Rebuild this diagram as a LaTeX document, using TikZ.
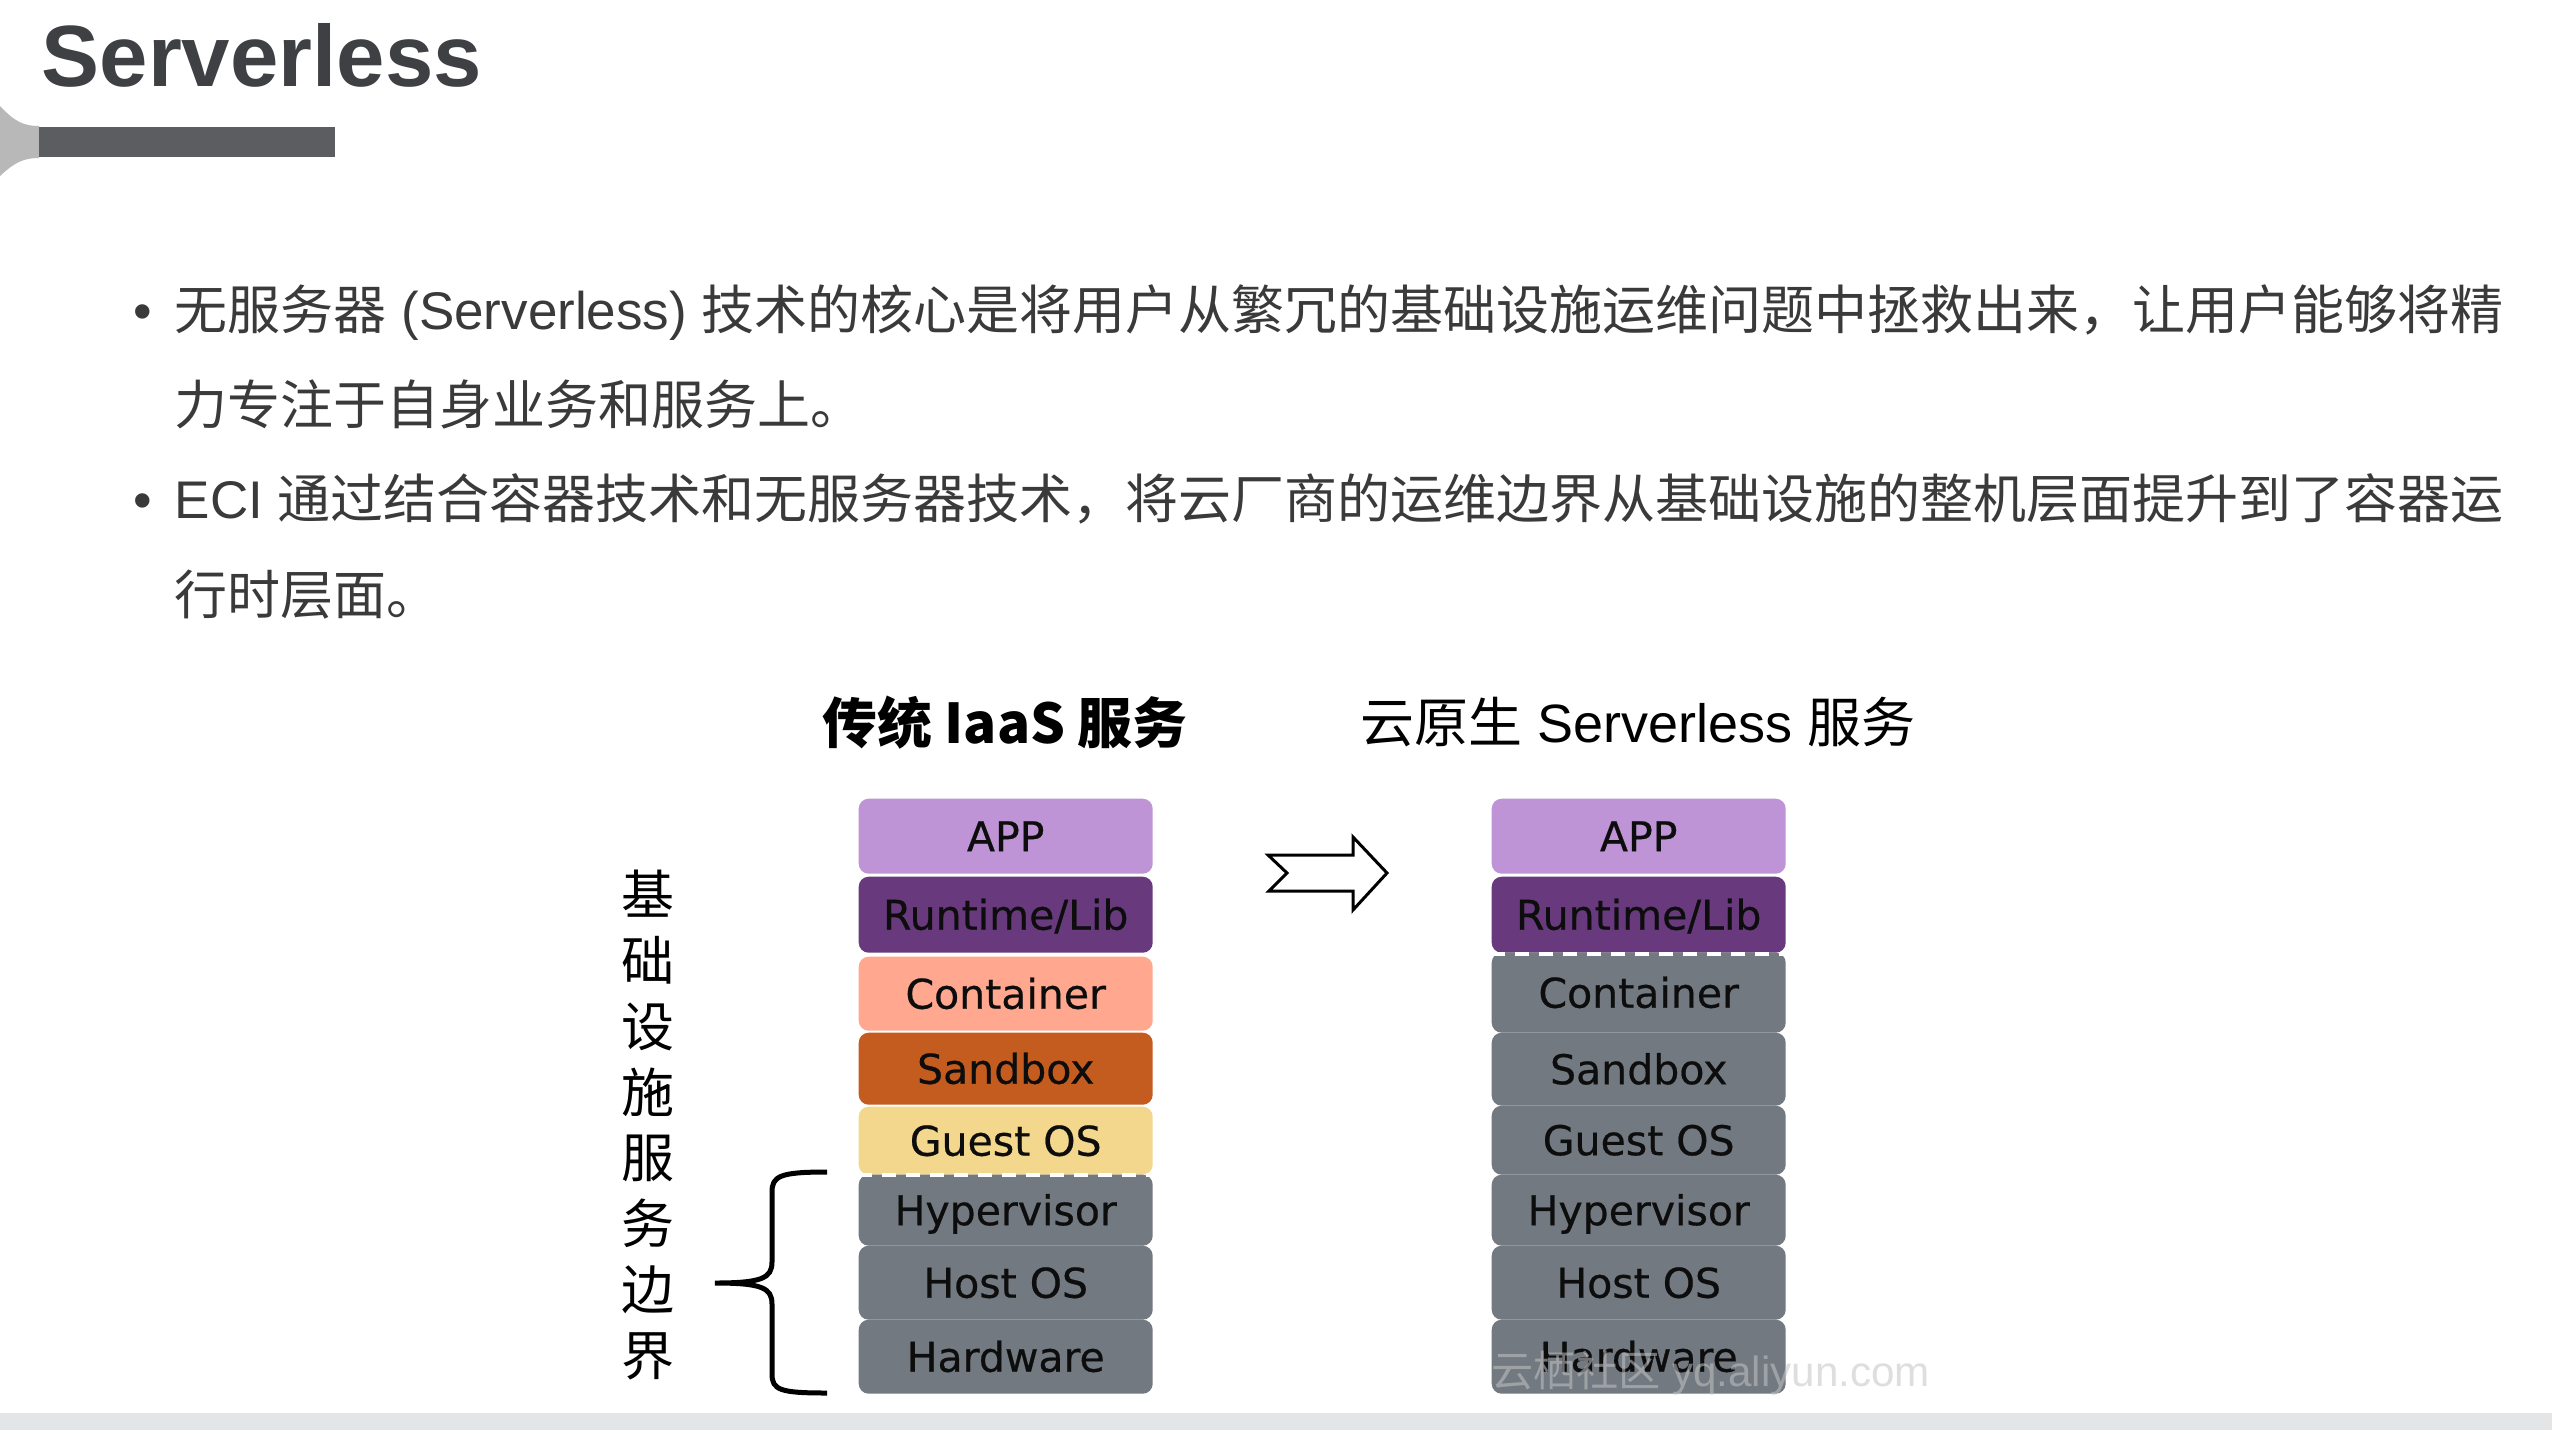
\documentclass[tikz,border=0pt]{standalone}
\usepackage{fontspec}
\setmainfont{Liberation Sans}
\newfontfamily\cjk{Noto Sans CJK SC}
\newfontfamily\layerfont{DejaVu Sans}[FakeBold=0.5]
\definecolor{titre}{RGB}{62,64,67}
\definecolor{barre}{RGB}{91,93,96}
\definecolor{evase}{RGB}{184,184,184}
\definecolor{texte}{RGB}{58,58,58}
\definecolor{bande}{RGB}{227,229,231}
\definecolor{appc}{RGB}{190,148,214}
\definecolor{runc}{RGB}{104,58,125}
\definecolor{ctrc}{RGB}{255,168,143}
\definecolor{sbxc}{RGB}{196,92,31}
\definecolor{gosc}{RGB}{243,215,140}
\definecolor{grisc}{RGB}{114,121,129}
\definecolor{filig}{RGB}{196,196,196}

\begin{document}
\begin{tikzpicture}[x=0.1mm, y=-0.1mm,
  layer/.style={rectangle, rounded corners=1mm, inner sep=0pt, minimum width=29.4mm,
    text height=3mm, text depth=0pt, text=black!95,
    font=\layerfont\fontsize{11.67}{14}\selectfont},
  puce/.style={anchor=base west, inner sep=0pt, text=texte, font=\fontsize{15.08}{18}\selectfont}]

		\newcommand{\mklayer}[6]{
			\node[layer, fill=#5, minimum height={(#4-#3)*0.1mm}, anchor=north west] (#1) at (#2,#3) {#6};
		}

		%fond et cadre
		\fill[white] (0,0) rectangle (2552,1430);
		\useasboundingbox (0,0) rectangle (2552,1430);
		\fill[bande] (0,1413) rectangle (2552,1430);

		%titre
		\fill[evase] (0,106) .. controls (15,122) and (24,126) .. (39,126) -- (39,158)
			.. controls (24,158) and (15,162) .. (0,176) -- cycle;
		\fill[barre] (39,127) rectangle (335,157);
		\node[anchor=base west, inner sep=0pt, text=titre, font=\bfseries\fontsize{24.75}{28}\selectfont]
			(titre) at (41,86) {Serverless};

		%texte
		\node[puce] (p1) at (133,329) {•};
		\node[puce] (l1) at (174,329) {{\cjk 无服务器} (Serverless) {\cjk 技术的核心是将用户从繁冗的基础设施运维问题中拯救出来，让用户能够将精}};
		\node[puce] (l2) at (174,424) {\cjk 力专注于自身业务和服务上。};
		\node[puce] (p2) at (133,518) {•};
		\node[puce] (l3) at (174,518) {ECI {\cjk 通过结合容器技术和无服务器技术，将云厂商的运维边界从基础设施的整机层面提升到了容器运}};
		\node[puce] (l4) at (174,614) {\cjk 行时层面。};

		%en-tetes
		\node[anchor=base, inner sep=0pt, font=\cjk\bfseries\fontsize{15.6}{19}\selectfont]
			(iaas) at (1005,743) {传统 IaaS 服务};
		\node[anchor=base, inner sep=0pt, font=\fontsize{15.36}{18}\selectfont]
			(sless) at (1638,742) {{\cjk 云原生} Serverless {\cjk 服务}};

		%pile de gauche
		\mklayer{app1}{858}{798}{873}{appc}{APP}
		\mklayer{run1}{858}{876}{952}{runc}{Runtime/Lib}
		\mklayer{ctr1}{858}{956}{1030}{ctrc}{Container}
		\mklayer{sbx1}{858}{1032}{1104}{sbxc}{Sandbox}
		\mklayer{gos1}{858}{1106}{1174}{gosc}{Guest OS}
		\mklayer{hyp1}{858}{1174}{1245}{grisc}{Hypervisor}
		\mklayer{hos1}{858}{1245}{1319}{grisc}{Host OS}
		\mklayer{hw1}{858}{1319}{1393}{grisc}{Hardware}
		\draw[white, line width=0.4mm, dash pattern=on 1.4mm off 1mm] (gos1.south west) -- (gos1.south east);

		%pile de droite
		\mklayer{app2}{1491}{798}{873}{appc}{APP}
		\mklayer{run2}{1491}{876}{952}{runc}{Runtime/Lib}
		\mklayer{ctr2}{1491}{952}{1032}{grisc}{Container}
		\mklayer{sbx2}{1491}{1032}{1105}{grisc}{Sandbox}
		\mklayer{gos2}{1491}{1105}{1174}{grisc}{Guest OS}
		\mklayer{hyp2}{1491}{1174}{1245}{grisc}{Hypervisor}
		\mklayer{hos2}{1491}{1245}{1319}{grisc}{Host OS}
		\mklayer{hw2}{1491}{1319}{1393}{grisc}{Hardware}
		\draw[white, line width=0.4mm, dash pattern=on 1.4mm off 1mm]
			([yshift=-0.2mm]ctr2.north west) -- ([yshift=-0.2mm]ctr2.north east);

		%fleche
		\draw[line width=0.3mm, line join=miter] (1268,855) -- (1353,855) -- (1353,837) -- (1387,873)
			-- (1353,910) -- (1353,891) -- (1269,891) -- (1287,873) -- cycle;

		%accolade
		\draw[line width=0.5mm] (827,1172) .. controls (780,1172) and (772,1176) .. (772,1192) -- (772,1262)
			.. controls (772,1278) and (762,1283) .. (715,1283)
			.. controls (762,1283) and (772,1288) .. (772,1304) -- (772,1374)
			.. controls (772,1390) and (780,1393) .. (827,1393);
		\node[align=center, inner sep=0pt, font=\cjk\fontsize{15.08}{18.75}\selectfont]
			(bord) at (648,1125) {基\\础\\设\\施\\服\\务\\边\\界};

		%filigrane
		\node[anchor=base west, inner sep=0pt, text=filig, text opacity=0.55, font=\fontsize{12}{14}\selectfont]
			(filig) at (1491,1386) {{\cjk 云栖社区} yq.aliyun.com};

\end{tikzpicture}
\end{document}
